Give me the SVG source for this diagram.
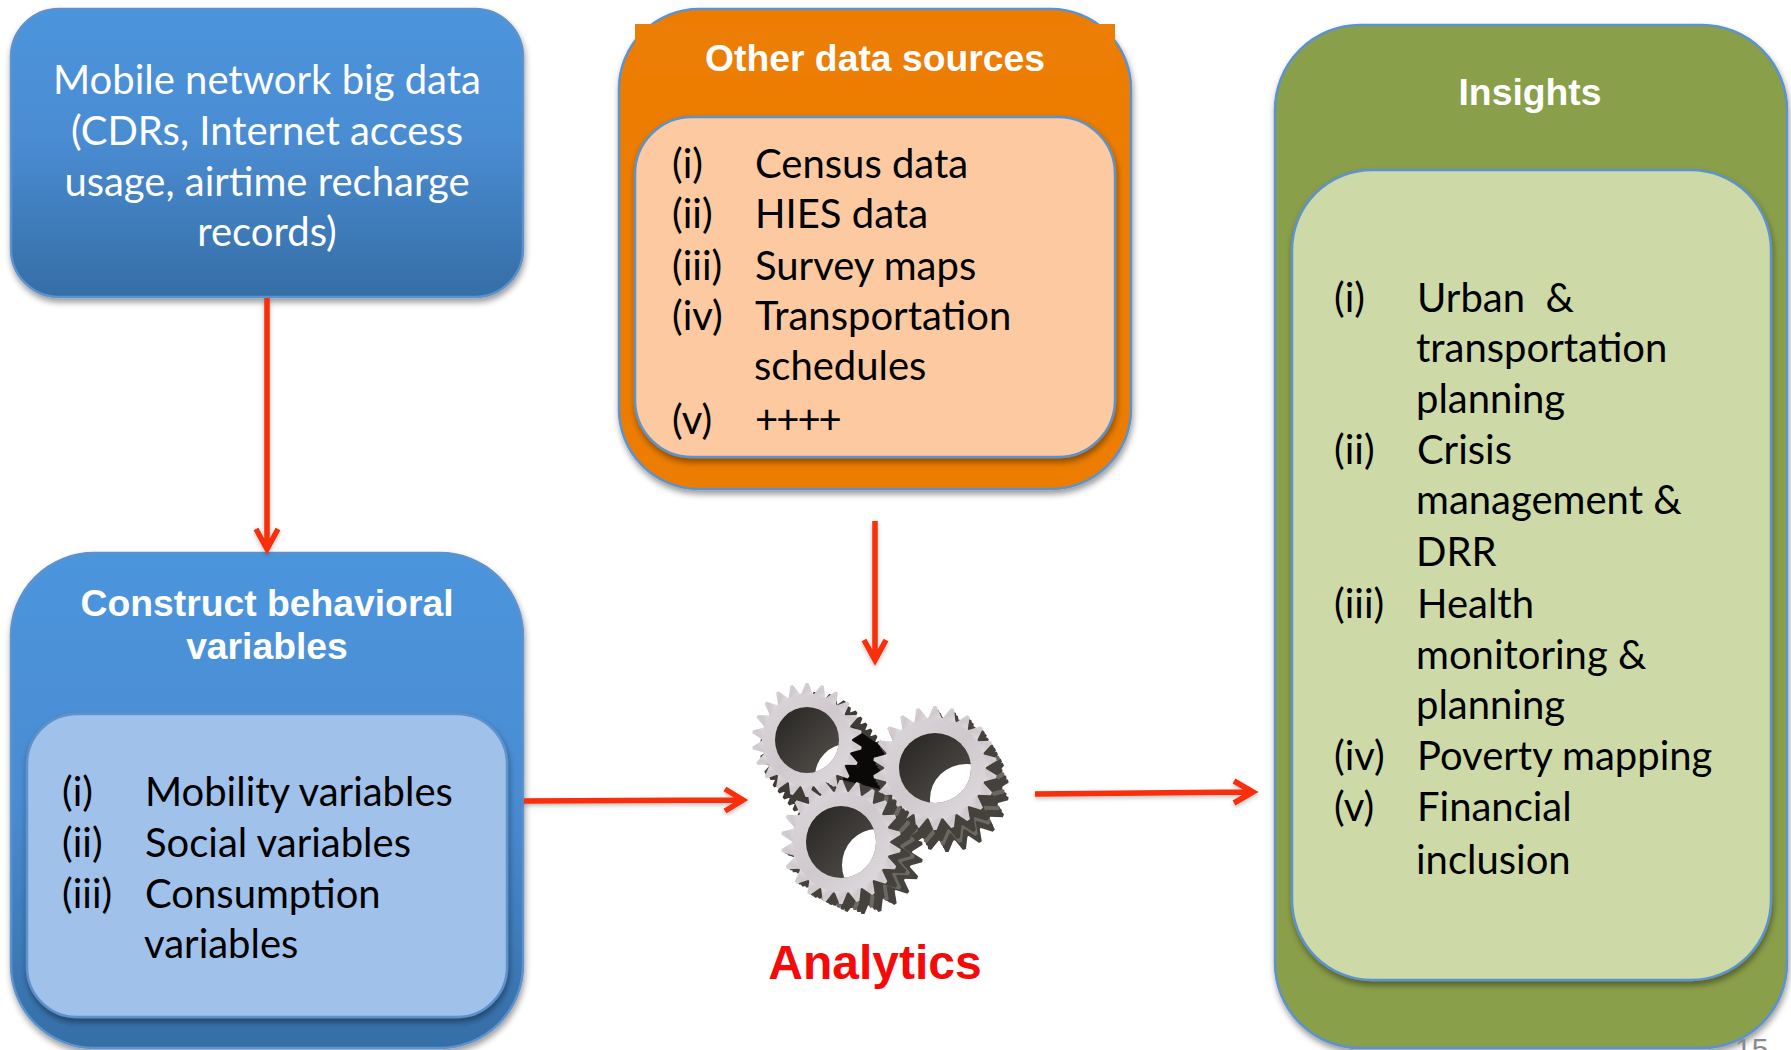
<svg xmlns="http://www.w3.org/2000/svg" xmlns:xlink="http://www.w3.org/1999/xlink" width="1791" height="1050" viewBox="0 0 1791 1050">
<style>
.box{stroke:#5d92cc;stroke-width:2.5;filter:url(#sh)}
.t{font-family:Lato,"Open Sans",sans-serif;font-size:40px;fill:#000;transform:translateY(1px)}
.w{fill:#fff}
.c{text-anchor:middle}
.h{font-family:"Liberation Sans",Arial,sans-serif;font-weight:700;font-size:37.3px;fill:#fff;text-anchor:middle}
.a{fill:none;stroke:#f92d07;stroke-width:5.5;filter:url(#as)}
</style>
<defs>
<filter id="sh" x="-10%" y="-10%" width="120%" height="120%"><feDropShadow dx="1" dy="4" stdDeviation="3" flood-color="#000" flood-opacity=".4"/></filter>
<filter id="as" x="-20%" y="-20%" width="140%" height="140%"><feDropShadow dx="0" dy="2" stdDeviation="2" flood-color="#000" flood-opacity=".25"/></filter>
<linearGradient id="b1" x1="0" y1="0" x2="0" y2="1"><stop offset="0" stop-color="#4c95dd"/><stop offset=".45" stop-color="#4a8cd2"/><stop offset="1" stop-color="#356ea6"/></linearGradient>
<linearGradient id="b2" x1="0" y1="0" x2="0" y2="1"><stop offset="0" stop-color="#4c95dd"/><stop offset=".5" stop-color="#4a8cd2"/><stop offset="1" stop-color="#356ea6"/></linearGradient>
<linearGradient id="face" x1="0" y1="0" x2="1" y2="1"><stop offset="0" stop-color="#dcd7da"/><stop offset=".5" stop-color="#cfc9ce"/><stop offset="1" stop-color="#e0dcde"/></linearGradient>
<linearGradient id="hole" x1="0" y1="0" x2="1" y2="1"><stop offset="0" stop-color="#262422"/><stop offset="1" stop-color="#55524d"/></linearGradient>
<polygon id="tooth" points="-.11,-.8 -.025,-1 .025,-1 .11,-.8"/>
<g id="gear">
<circle r=".82"/>
<use xlink:href="#tooth"/><use xlink:href="#tooth" transform="rotate(16.36)"/><use xlink:href="#tooth" transform="rotate(32.73)"/><use xlink:href="#tooth" transform="rotate(49.09)"/><use xlink:href="#tooth" transform="rotate(65.45)"/><use xlink:href="#tooth" transform="rotate(81.82)"/><use xlink:href="#tooth" transform="rotate(98.18)"/><use xlink:href="#tooth" transform="rotate(114.55)"/><use xlink:href="#tooth" transform="rotate(130.91)"/><use xlink:href="#tooth" transform="rotate(147.27)"/><use xlink:href="#tooth" transform="rotate(163.64)"/><use xlink:href="#tooth" transform="rotate(180)"/><use xlink:href="#tooth" transform="rotate(196.36)"/><use xlink:href="#tooth" transform="rotate(212.73)"/><use xlink:href="#tooth" transform="rotate(229.09)"/><use xlink:href="#tooth" transform="rotate(245.45)"/><use xlink:href="#tooth" transform="rotate(261.82)"/><use xlink:href="#tooth" transform="rotate(278.18)"/><use xlink:href="#tooth" transform="rotate(294.55)"/><use xlink:href="#tooth" transform="rotate(310.91)"/><use xlink:href="#tooth" transform="rotate(327.27)"/><use xlink:href="#tooth" transform="rotate(343.64)"/>
</g>
<clipPath id="h1"><ellipse cx="807" cy="740" rx="32" ry="33"/></clipPath>
<clipPath id="h2"><ellipse cx="935" cy="768" rx="36" ry="35"/></clipPath>
<clipPath id="h3"><ellipse cx="841" cy="842" rx="35" ry="36"/></clipPath>
</defs>
<rect width="1791" height="1050" fill="#fff"/>

<g id="mobile-data">
<rect class="box" x="11" y="9" width="512" height="288" rx="48" fill="url(#b1)"/>
<text class="t w c" x="267" y="93">Mobile network big data</text>
<text class="t w c" x="267" y="144">(CDRs, Internet access</text>
<text class="t w c" x="267" y="195">usage, airtime recharge</text>
<text class="t w c" x="267" y="245">records)</text>
</g>

<g id="other-data">
<rect class="box" x="619" y="9" width="512" height="480" rx="80" fill="#ec7d05"/>
<rect x="635" y="24" width="480" height="50" fill="#ec7d05"/>
<text class="h" x="875" y="71">Other data sources</text>
<rect class="box" x="635" y="117" width="480" height="340" rx="57" fill="#fcc9a0"/>
<text class="t" x="672" y="177">(i)</text><text class="t" x="755" y="177">Census data</text>
<text class="t" x="672" y="227">(ii)</text><text class="t" x="755" y="227">HIES data</text>
<text class="t" x="672" y="279">(iii)</text><text class="t" x="755" y="279">Survey maps</text>
<text class="t" x="672" y="329">(iv)</text><text class="t" x="755" y="329">Transportation</text>
<text class="t" x="754" y="379">schedules</text>
<text class="t" x="672" y="433">(v)</text><text class="t" x="755" y="433" letter-spacing="-2">++++</text>
</g>

<g id="behavioral">
<rect class="box" x="11" y="553" width="512" height="495" rx="83" fill="url(#b2)"/>
<text class="h" x="267" y="616">Construct behavioral</text>
<text class="h" x="267" y="659">variables</text>
<rect class="box" x="27" y="714" width="480" height="303" rx="50" fill="#a0c1ea"/>
<text class="t" x="62" y="805">(i)</text><text class="t" x="145" y="805">Mobility variables</text>
<text class="t" x="62" y="856">(ii)</text><text class="t" x="145" y="856">Social variables</text>
<text class="t" x="62" y="907">(iii)</text><text class="t" x="145" y="907">Consumption</text>
<text class="t" x="144" y="957">variables</text>
</g>

<g id="analytics">
<g fill="#3f3c38">
<use xlink:href="#gear" transform="translate(845 785) scale(55 57)"/><use xlink:href="#gear" transform="translate(840 779) scale(55 57)"/><use xlink:href="#gear" transform="translate(835 773) scale(55 57)"/><use xlink:href="#gear" transform="translate(830 767) scale(55 57)"/><use xlink:href="#gear" transform="translate(825 761) scale(55 57)"/><use xlink:href="#gear" transform="translate(820 755) scale(55 57)"/><use xlink:href="#gear" transform="translate(815 749) scale(55 57)"/>
</g>
<path d="M853 727L887 750L883 790L843 780Z" fill="#0a0908"/>
<use xlink:href="#gear" transform="translate(807 740) scale(55 57)" fill="url(#face)"/>
<ellipse cx="807" cy="740" rx="32" ry="33" fill="url(#hole)"/>
<ellipse cx="847" cy="777" rx="32" ry="33" fill="#fff" clip-path="url(#h1)"/>
<g fill="#45423e">
<use xlink:href="#gear" transform="translate(947 790) scale(62 62)"/><use xlink:href="#gear" transform="translate(945 786) scale(62 62)"/><use xlink:href="#gear" transform="translate(943 783) scale(62 62)" fill="#6b6863"/><use xlink:href="#gear" transform="translate(941 779) scale(62 62)"/><use xlink:href="#gear" transform="translate(939 775) scale(62 62)"/><use xlink:href="#gear" transform="translate(937 772) scale(62 62)"/>
</g>
<use xlink:href="#gear" transform="translate(935 768) scale(62 62)" fill="url(#face)"/>
<ellipse cx="935" cy="768" rx="36" ry="35" fill="url(#hole)"/>
<ellipse cx="966" cy="799" rx="36" ry="35" fill="#fff" clip-path="url(#h2)"/>
<g fill="#45423e">
<use xlink:href="#gear" transform="translate(863 852) scale(60 62)"/><use xlink:href="#gear" transform="translate(859 850) scale(60 62)"/><use xlink:href="#gear" transform="translate(855 848) scale(60 62)" fill="#6b6863"/><use xlink:href="#gear" transform="translate(851 846) scale(60 62)"/><use xlink:href="#gear" transform="translate(847 845) scale(60 62)"/><use xlink:href="#gear" transform="translate(844 843) scale(60 62)"/>
</g>
<use xlink:href="#gear" transform="translate(841 842) scale(60 62)" fill="url(#face)"/>
<ellipse cx="841" cy="842" rx="35" ry="36" fill="url(#hole)"/>
<ellipse cx="877" cy="865" rx="35" ry="36" fill="#fff" clip-path="url(#h3)"/>
<text x="875" y="979" font-family="'Liberation Sans',Arial,sans-serif" font-weight="700" font-size="48" fill="#f50a0a" text-anchor="middle">Analytics</text>
</g>

<g id="insights">
<rect class="box" x="1275" y="25" width="512" height="1023" rx="85" fill="#8a9f4a"/>
<text class="h" x="1530" y="105">Insights</text>
<rect class="box" x="1292" y="170" width="479" height="810" rx="80" fill="#cddaa8"/>
<text class="t" x="1334" y="311">(i)</text><text class="t" x="1417" y="311" xml:space="preserve">Urban  &amp;</text>
<text class="t" x="1416" y="361">transportation</text>
<text class="t" x="1416" y="412">planning</text>
<text class="t" x="1334" y="463">(ii)</text><text class="t" x="1417" y="463">Crisis</text>
<text class="t" x="1416" y="513">management &amp;</text>
<text class="t" x="1416" y="565">DRR</text>
<text class="t" x="1334" y="617">(iii)</text><text class="t" x="1417" y="617">Health</text>
<text class="t" x="1416" y="668">monitoring &amp;</text>
<text class="t" x="1416" y="718">planning</text>
<text class="t" x="1334" y="769">(iv)</text><text class="t" x="1417" y="769">Poverty mapping</text>
<text class="t" x="1334" y="820">(v)</text><text class="t" x="1417" y="820">Financial</text>
<text class="t" x="1416" y="873">inclusion</text>
</g>
<text id="page-number" x="1735" y="1059" font-family="'Liberation Sans',Arial,sans-serif" font-size="30" fill="#8a8a8a">15</text>

<g id="connectors">
<path class="a" d="M267 298V547M256 529L267 549L278 529"/>
<path class="a" d="M875 521V658M864 640L875 660L886 640"/>
<path class="a" d="M524 801L740 800M725 789L743 800L725 811"/>
<path class="a" d="M1035 794L1250 792M1234 781L1253 792L1234 803"/>
</g>
</svg>
